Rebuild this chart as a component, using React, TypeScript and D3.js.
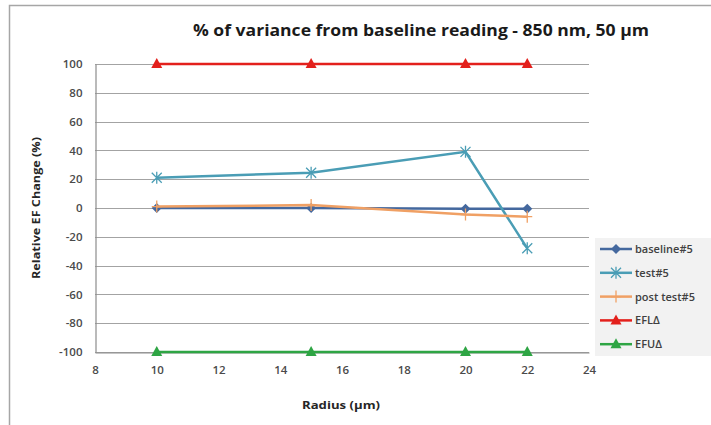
import React, { useRef, useEffect } from "react";
import * as d3 from "d3";

// chart data
const radius = [10, 15, 20, 22];
const baseline5 = [0, 0, -0.5, -0.5];
const test5 = [21, 24.5, 39, -28];
const postTest5 = [1, 2, -4.5, -6];
const efl = [100, 100, 100, 100];
const efu = [-100, -100, -100, -100];
const xTicks = [8, 10, 12, 14, 16, 18, 20, 22, 24];
const yTicks = [-100, -80, -60, -40, -20, 0, 20, 40, 60, 80, 100];

const series = [
  { name: "baseline#5", values: baseline5, color: "#44689e", marker: "diamond" },
  { name: "test#5", values: test5, color: "#4a9db5", marker: "star" },
  { name: "post test#5", values: postTest5, color: "#f0a064", marker: "plus" },
  { name: "EFL\u0394", values: efl, color: "#e3201c", marker: "triangle" },
  { name: "EFU\u0394", values: efu, color: "#2ea544", marker: "triangle" },
];

const App = () => {
  const container = useRef(null);
  const width = 711;
  const height = 425;

  useEffect(() => {
    const svg = d3.select(container.current);
    svg.selectAll("*").remove();

    // outer chart border
    svg
      .append("rect")
      .attr("x", 9.5)
      .attr("y", 5.5)
      .attr("width", 720)
      .attr("height", 440)
      .attr("fill", "white")
      .attr("stroke", "#a6a6a6")
      .attr("stroke-width", 1.5);

    const xScale = d3.scaleLinear().domain([8, 24]).range([95, 589]);
    const yScale = d3.scaleLinear().domain([-100, 100]).range([352, 64]);

    // gridlines
    svg
      .append("g")
      .selectAll("line")
      .data(yTicks)
      .enter()
      .append("line")
      .attr("x1", xScale(8))
      .attr("x2", xScale(24))
      .attr("y1", (d) => Math.round(yScale(d)) + 0.5)
      .attr("y2", (d) => Math.round(yScale(d)) + 0.5)
      .attr("stroke", "#a3a3a3")
      .attr("stroke-width", 1.2);

    // axes (plain hyphen for negatives, like the original)
    const fmt = (d) => String(d);
    const yAxis = d3.axisLeft(yScale).tickValues(yTicks).tickFormat(fmt).tickSize(0).tickPadding(13);
    const xAxis = d3.axisBottom(xScale).tickValues(xTicks).tickFormat(fmt).tickSize(0).tickPadding(13);

    const gy = svg.append("g").attr("transform", `translate(${xScale(8) + 0.5},0)`).call(yAxis);
    const gx = svg.append("g").attr("transform", `translate(0,${yScale(-100) + 0.5})`).call(xAxis);
    [gx, gy].forEach((g) => {
      g.select(".domain").attr("stroke", "#8c8c8c").attr("stroke-width", 1.2);
      g.selectAll("text")
        .style("font-family", "'Open Sans', sans-serif")
        .style("font-size", "11.5px")
        .style("font-weight", "600")
        .attr("fill", "#4a4a4a");
    });

    const line = d3
      .line()
      .x((d) => xScale(d[0]))
      .y((d) => yScale(d[1]));

    const drawMarker = (g, kind, x, y, color) => {
      if (kind === "diamond") {
        g.append("path")
          .attr("d", `M${x},${y - 5}L${x + 5},${y}L${x},${y + 5}L${x - 5},${y}Z`)
          .attr("fill", color);
      } else if (kind === "triangle") {
        g.append("path")
          .attr("d", `M${x},${y - 6}L${x + 5.5},${y + 4}L${x - 5.5},${y + 4}Z`)
          .attr("fill", color);
      } else if (kind === "star") {
        g.append("path")
          .attr("d", `M${x - 5},${y - 5}L${x + 5},${y + 5}M${x - 5},${y + 5}L${x + 5},${y - 5}M${x},${y - 6}L${x},${y + 6}`)
          .attr("stroke", color)
          .attr("stroke-width", 1.3);
      } else if (kind === "plus") {
        g.append("path")
          .attr("d", `M${x - 5},${y}L${x + 5},${y}M${x},${y - 6}L${x},${y + 6}`)
          .attr("stroke", color)
          .attr("stroke-width", 1.3);
      }
    };

    // series lines
    series.forEach((s) => {
      const pts = radius.map((r, i) => [r, s.values[i]]);
      const g = svg.append("g");
      g.append("path")
        .attr("d", line(pts))
        .attr("fill", "none")
        .attr("stroke", s.color)
        .attr("stroke-width", 2.5);
      pts.forEach((p) => drawMarker(g, s.marker, xScale(p[0]), yScale(p[1]), s.color));
    });

    // legend
    const legend = svg.append("g").attr("transform", "translate(595,238)");
    legend
      .append("rect")
      .attr("width", 120)
      .attr("height", 118)
      .attr("fill", "#f2f2f2");
    series.forEach((s, i) => {
      const y = 11 + i * 23.8;
      const g = legend.append("g");
      g.append("line")
        .attr("x1", 5)
        .attr("x2", 37)
        .attr("y1", y)
        .attr("y2", y)
        .attr("stroke", s.color)
        .attr("stroke-width", 2.5);
      drawMarker(g, s.marker, 21, y, s.color);
      g.append("text")
        .attr("x", 40)
        .attr("y", y + 4)
        .style("font-family", "'Open Sans', sans-serif")
        .style("font-size", "11px")
        .style("font-weight", "600")
        .attr("fill", "#404040")
        .text(s.name);
    });

    // titles
    svg
      .append("text")
      .attr("x", 421)
      .attr("y", 36)
      .attr("text-anchor", "middle")
      .attr("textLength", 456)
      .attr("lengthAdjust", "spacingAndGlyphs")
      .style("font-family", "'Open Sans', sans-serif")
      .style("font-size", "16px")
      .style("font-weight", "bold")
      .attr("fill", "#1a1a1a")
      .text("% of variance from baseline reading - 850 nm, 50 \u00b5m");

    svg
      .append("text")
      .attr("transform", "translate(40,208) rotate(-90)")
      .attr("text-anchor", "middle")
      .attr("textLength", 142)
      .attr("lengthAdjust", "spacingAndGlyphs")
      .style("font-family", "'Open Sans', sans-serif")
      .style("font-size", "11px")
      .style("font-weight", "bold")
      .attr("fill", "#262626")
      .text("Relative EF Change (%)");

    svg
      .append("text")
      .attr("x", 341)
      .attr("y", 409)
      .attr("text-anchor", "middle")
      .attr("textLength", 78)
      .attr("lengthAdjust", "spacingAndGlyphs")
      .style("font-family", "'Open Sans', sans-serif")
      .style("font-size", "11px")
      .style("font-weight", "bold")
      .attr("fill", "#262626")
      .text("Radius (\u00b5m)");
  }, []);

  return (
    <svg
      ref={container}
      width={width}
      height={height}
      style={{ position: "absolute", left: 0, top: 0, background: "white" }}
    />
  );
};

export default App;
